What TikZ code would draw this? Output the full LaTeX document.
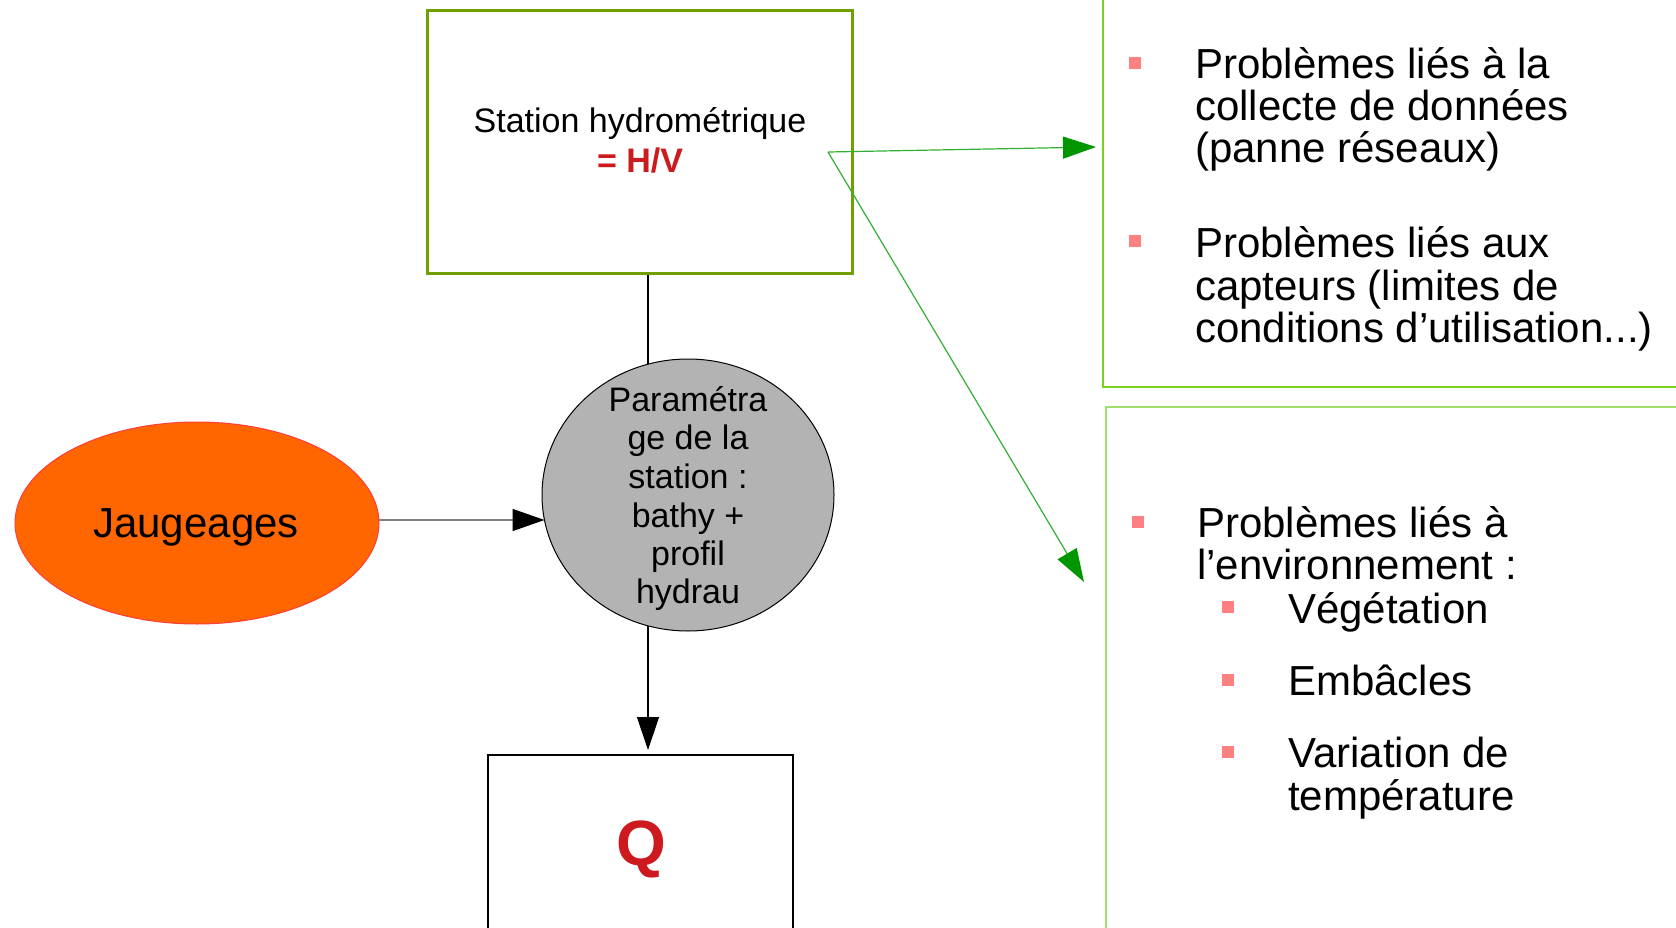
\documentclass[tikz,border=0pt]{standalone}
\usepackage{fontspec}
\setmainfont{Liberation Sans}
\usetikzlibrary{arrows.meta,shapes.geometric,backgrounds}
\definecolor{stgreen}{RGB}{112,160,0}
\definecolor{boxgreenA}{RGB}{120,210,30}
\definecolor{boxgreenB}{RGB}{160,222,110}
\definecolor{arrgreen}{RGB}{50,175,50}
\definecolor{headgreen}{RGB}{0,150,0}
\definecolor{bulletpink}{RGB}{255,128,128}
\definecolor{jaugfill}{RGB}{255,102,0}
\definecolor{jaugline}{RGB}{255,60,60}
\definecolor{paramfill}{RGB}{179,179,179}
\definecolor{qred}{RGB}{204,26,30}
\definecolor{linegray}{RGB}{128,128,128}
\tikzset{
  f34/.style={font=\fontsize{34}{38}\selectfont},
  f42/.style={font=\fontsize{42}{42}\selectfont},
  txtl/.style={f42,anchor=base west,inner sep=0pt},
  txtc/.style={f34,anchor=base,inner sep=0pt},
  bulletsq/.style={fill=bulletpink,minimum size=12pt,inner sep=0pt,outer sep=0pt},
  greenarrow/.style={draw=arrgreen,line width=1.2pt,-{Triangle[length=33pt,width=22pt,color=headgreen]}},
  blackarrow/.style={line width=1.2pt,-{Triangle[length=33pt,width=22pt,color=black]}},
}
\begin{document}
\begin{tikzpicture}[x=1pt,y=-1pt]
\useasboundingbox (0,0) rectangle (1676,928);
% right boxes
\node[draw=boxgreenA,line width=1.5pt,minimum width=588pt,minimum height=396pt,anchor=north west,inner sep=0pt] (boxA) at (1102,-10) {};
\node[draw=boxgreenB,line width=1.5pt,minimum width=588pt,minimum height=540pt,anchor=north west,inner sep=0pt] (boxB) at (1105,406) {};
% station box
\node[draw=stgreen,line width=3pt,minimum width=425pt,minimum height=262pt,inner sep=0pt,outer sep=0pt] (st) at (639.5,142) {};
\node[txtc] (sttxt) at (640,133) {Station hydrométrique};
\node[txtc,text=qred,font=\fontsize{34}{38}\selectfont\bfseries] (sthv) at (640,173) {= H/V};
% parametrage circle
\node[ellipse,draw=black,line width=1pt,fill=paramfill,minimum width=292pt,minimum height=272pt,inner sep=0pt,outer sep=0pt] (param) at (688,495) {};
\node[txtc] (p1) at (688,411) {Paramétra};
\node[txtc] (p2) at (688,449) {ge de la};
\node[txtc] (p3) at (688,488) {station :};
\node[txtc] (p4) at (688,527) {bathy +};
\node[txtc] (p5) at (688,565) {profil};
\node[txtc] (p6) at (688,603) {hydrau};
% Jaugeages
\node[ellipse,draw=jaugline,line width=1pt,fill=jaugfill,minimum width=364pt,minimum height=202pt,inner sep=0pt,outer sep=0pt] (jaug) at (197,523) {};
\node[f42,anchor=base,inner sep=0pt] (jaugtxt) at (196,537) {Jaugeages};
% Q box
\node[draw=black,line width=2.5pt,minimum width=305pt,minimum height=200pt,anchor=north,inner sep=0pt,outer sep=0pt] (qbox) at (640.5,755) {};
\node[anchor=base,inner sep=0pt,text=qred,font=\fontsize{64}{64}\selectfont\bfseries] (qtxt) at (641,865) {Q};
% connectors behind the circle
\begin{scope}[on background layer]
\draw[line width=1.2pt] ([xshift=8.5pt]st.south) -- ([xshift=8.5pt]st.south |- param.center);
\draw[blackarrow,shorten >=5pt] ([xshift=8.5pt]st.south |- param.center) -- ([xshift=8.5pt]st.south |- qbox.north);
\end{scope}
\draw[draw=linegray,line width=1.5pt,-{Triangle[length=32pt,width=22pt,color=black]}] ([yshift=3pt]jaug.east) -- ([yshift=3pt,xshift=2.5pt]jaug.east -| param.west);
% green arrows
\coordinate (gstart) at (828,152);
\coordinate (gendA) at (1096,147);
\coordinate (gendB) at (1084,582);
\draw[greenarrow] (gstart) -- (gendA);
\draw[greenarrow] (gstart) -- (gendB);
% bullets top box
\node[bulletsq] (b1) at (1134.5,63) {};
\node[txtl] (t1a) at (1195,79) {Problèmes liés à la};
\node[txtl] (t1b) at (1195,121) {collecte de données};
\node[txtl] (t1c) at (1195,163) {(panne réseaux)};
\node[bulletsq] (b2) at (1134.5,241) {};
\node[txtl] (t2a) at (1195,258) {Problèmes liés aux};
\node[txtl] (t2b) at (1195,300) {capteurs (limites de};
\node[txtl] (t2c) at (1195,342) {conditions d’utilisation...)};
% bullets bottom box
\node[bulletsq] (b3) at (1137.5,522) {};
\node[txtl] (t3a) at (1197,537) {Problèmes liés à};
\node[txtl] (t3b) at (1197,579) {l’environnement :};
\node[bulletsq] (s1) at (1228,606.5) {};
\node[txtl] (s1t) at (1288,623) {Végétation};
\node[bulletsq] (s2) at (1228,680) {};
\node[txtl] (s2t) at (1288,695) {Embâcles};
\node[bulletsq] (s3) at (1228,752) {};
\node[txtl] (s3a) at (1288,767) {Variation de};
\node[txtl] (s3b) at (1288,810) {température};
\end{tikzpicture}
\end{document}
